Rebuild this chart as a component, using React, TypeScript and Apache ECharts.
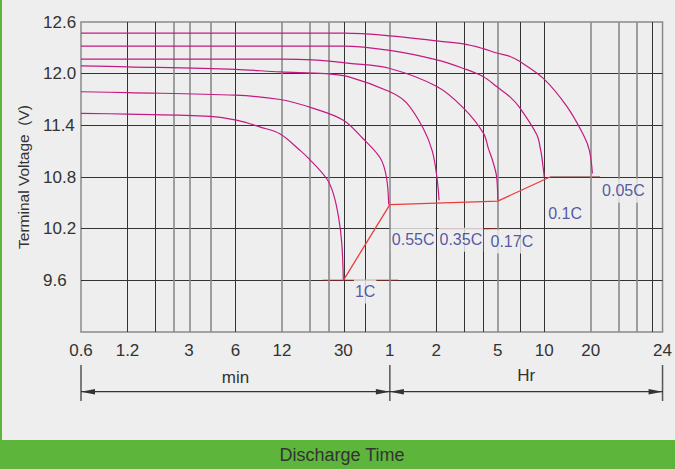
import React, { useEffect, useRef } from 'react';
import * as echarts from 'echarts';

// X axis: discharge time in minutes (log scale)
const xMinMinutes = 0.6;
const xMaxMinutes = 3500;
const tickMinutes = [0.6, 1.2, 3, 6, 12, 30, 60, 120, 300, 600, 1200, 3500];
const tickLabels = ['0.6', '1.2', '3', '6', '12', '30', '1', '2', '5', '10', '20', '24'];
const darkGridMinutes = [1.2, 1.8, 6, 30, 42, 120, 180, 240, 420, 600, 3000];
const grayGridMinutes = [2.4, 3, 4.2, 12, 18, 24, 60, 300, 1200, 1800, 2400];
const hourMinutes = 60;

// Y axis: terminal voltage
const yMin = 9.0;
const yMax = 12.6;
const yStep = 0.6;

// Discharge curves [minutes, volts]
const curve1C = [[0.6, 11.54], [1.2, 11.53], [4.1, 11.505], [6.1, 11.46], [8.7, 11.38], [11.7, 11.3], [15.7, 11.11], [17.8, 11.02], [23.4, 10.78], [25.8, 10.61], [27.9, 10.34], [29.3, 10.03], [30, 9.6]];
const curve055C = [[0.6, 11.79], [1.2, 11.78], [6, 11.75], [11.7, 11.7], [19, 11.6], [30, 11.46], [40, 11.25], [52, 11.02], [57, 10.8], [59, 10.48]];
const curve035C = [[0.6, 12.09], [1.2, 12.08], [6, 12.05], [11.7, 12.02], [23, 12.0], [33, 11.96], [60, 11.79], [77, 11.66], [99, 11.36], [113, 11.1], [121, 10.8], [125, 10.53]];
const curve017C = [[0.6, 12.17], [12, 12.17], [19, 12.16], [33, 12.12], [60, 12.06], [121, 11.85], [180, 11.6], [242, 11.31], [261, 11.13], [281, 10.96], [295, 10.8], [300, 10.53]];
const curve01C = [[0.6, 12.32], [30, 12.32], [60, 12.27], [121, 12.16], [180, 12.06], [242, 11.965], [295, 11.85], [360, 11.73], [418, 11.6], [537, 11.29], [569, 11.11], [578, 11.04], [600, 10.8]];
const curve005C = [[0.6, 12.47], [30, 12.47], [60, 12.44], [121, 12.38], [180, 12.345], [242, 12.29], [295, 12.24], [360, 12.2], [418, 12.14], [592, 11.945], [840, 11.62], [1075, 11.29], [1176, 11.11], [1230, 10.84]];
const curves = [curve1C, curve055C, curve035C, curve017C, curve01C, curve005C];

// End-voltage line and cut-off marks
const endVoltageLine = [[30, 9.6], [60, 10.48], [300, 10.52], [654, 10.8]];
const cutoffMarks = [
  [[22, 9.6], [68, 9.6]],
  [[125, 10.2], [310, 10.2]],
  [[654, 10.8], [1380, 10.8]],
];

// Rate labels and their anchors [minutes, volts]
const rateLabels = ['1C', '0.55C', '0.35C', '0.17C', '0.1C', '0.05C'];
const rateLabelAnchors = [[41.5, 9.47], [85, 10.07], [173, 10.07], [370, 10.05], [818, 10.38], [1952, 10.64]];

const FONT = 'Arial, "Liberation Sans", Helvetica, sans-serif';
const lg = (m: number) => Math.log10(m);
const toXY = (pts: number[][]) => pts.map(([m, v]) => [lg(m), v]);

export default function App() {
  const ref = useRef<HTMLDivElement>(null);
  useEffect(() => {
    const chart = echarts.init(ref.current!, null, { renderer: 'svg' });
    const tickLog = tickMinutes.map(lg);
    const option: any = {
      animation: false,
      backgroundColor: '#eeeeee',
      grid: {
        left: 81, right: 12, top: 22, bottom: 137,
        show: true, backgroundColor: '#eeeeee', borderColor: '#8a8a8a', borderWidth: 1.5,
      },
      xAxis: {
        type: 'value',
        min: lg(xMinMinutes),
        max: lg(xMaxMinutes),
        axisLine: { show: false },
        axisTick: { show: false },
        splitLine: { show: false },
        axisLabel: {
          customValues: tickLog,
          margin: 10,
          fontSize: 17,
          color: '#333',
          fontFamily: FONT,
          formatter: (v: number) => {
            let best = 0;
            tickLog.forEach((t, i) => { if (Math.abs(t - v) < Math.abs(tickLog[best] - v)) best = i; });
            return tickLabels[best];
          },
        },
      },
      yAxis: {
        type: 'value',
        min: yMin,
        max: yMax,
        interval: yStep,
        name: 'Terminal Voltage  (V)',
        nameLocation: 'middle',
        nameGap: 50,
        nameTextStyle: { fontSize: 15.5, color: '#333', fontFamily: FONT },
        axisLine: { show: false },
        axisTick: { show: false },
        splitLine: { show: true, showMinLine: false, showMaxLine: false, lineStyle: { color: '#333', width: 1 } },
        axisLabel: {
          align: 'left',
          margin: 38,
          fontSize: 17,
          color: '#333',
          fontFamily: FONT,
          formatter: (v: number) => (Math.abs(v - yMin) < 1e-6 ? '' : v.toFixed(1)),
        },
      },
      series: [
        {
          type: 'line', data: [], z: 1, silent: true,
          markLine: {
            symbol: 'none', silent: true, label: { show: false },
            lineStyle: { color: '#333', width: 1, type: 'solid' },
            data: darkGridMinutes.map((m) => ({ xAxis: lg(m) })),
          },
        },
        {
          type: 'line', data: [], z: 1, silent: true,
          markLine: {
            symbol: 'none', silent: true, label: { show: false },
            lineStyle: { color: '#8a8a8a', width: 1.6, type: 'solid' },
            data: grayGridMinutes.map((m) => ({ xAxis: lg(m) })),
          },
        },
        ...curves.map((c) => ({
          type: 'line', data: toXY(c), z: 5, silent: true, symbol: 'none',
          smooth: 0.35,
          lineStyle: { color: '#c41a80', width: 1.2 },
        })),
        {
          type: 'line', data: toXY(endVoltageLine), z: 6, silent: true, symbol: 'none',
          lineStyle: { color: '#ee3b3b', width: 1.3 },
        },
        ...cutoffMarks.map((seg) => ({
          type: 'line', data: toXY(seg), z: 4, silent: true, symbol: 'none',
          lineStyle: { color: '#6e2a2a', width: 1.2 },
        })),
        {
          type: 'scatter', z: 10, silent: true, symbolSize: 0,
          data: rateLabelAnchors.map((p, i) => ({ value: [lg(p[0]), p[1]], name: rateLabels[i] })),
          label: {
            show: true, position: 'inside', formatter: '{b}',
            fontSize: 16, color: '#2b3190', fontFamily: FONT,
            backgroundColor: '#eeeeee', padding: [4, 1],
          },
        },
      ],
    };
    chart.setOption(option);

    const xL = chart.convertToPixel({ xAxisIndex: 0 }, lg(xMinMinutes)) as number;
    const xM = chart.convertToPixel({ xAxisIndex: 0 }, lg(hourMinutes)) as number;
    const xR = chart.convertToPixel({ xAxisIndex: 0 }, lg(xMaxMinutes)) as number;
    const ay = 391.7;
    const ah = 14;
    const aw = 2.8;
    const dark = '#333';
    const arrow = (tip: number, dir: number) => ({
      type: 'polygon',
      shape: { points: [[tip, ay], [tip - dir * ah, ay - aw], [tip - dir * ah, ay + aw]] },
      style: { fill: dark },
    });
    const tick = (x: number) => ({
      type: 'line', shape: { x1: x, y1: 365, x2: x, y2: 401 },
      style: { stroke: '#555', lineWidth: 1.5 },
    });
    chart.setOption({
      graphic: [
        { type: 'rect', shape: { x: 0, y: 0, width: 2, height: 440 }, style: { fill: '#5db53c' } },
        { type: 'rect', shape: { x: 0, y: 440, width: 675, height: 29 }, style: { fill: '#5db53c' } },
        {
          type: 'text', x: 342, y: 455,
          style: { text: 'Discharge Time', fontSize: 18, fill: '#333', fontFamily: FONT, align: 'center', verticalAlign: 'middle' },
        },
        tick(xL), tick(xM), tick(xR),
        { type: 'line', shape: { x1: xL, y1: ay, x2: xR, y2: ay }, style: { stroke: dark, lineWidth: 1.2 } },
        arrow(xL, -1), arrow(xM, 1), arrow(xM, -1), arrow(xR, 1),
        {
          type: 'text', x: (xL + xM) / 2, y: 377,
          style: { text: 'min', fontSize: 17, fill: '#333', fontFamily: FONT, align: 'center', verticalAlign: 'middle' },
        },
        {
          type: 'text', x: (xM + xR) / 2, y: 375,
          style: { text: 'Hr', fontSize: 17, fill: '#333', fontFamily: FONT, align: 'center', verticalAlign: 'middle' },
        },
      ],
    });
    return () => chart.dispose();
  }, []);
  return (
    <div
      ref={ref}
      style={{ position: 'fixed', left: 0, top: 0, width: 675, height: 469, background: '#eeeeee' }}
    />
  );
}
